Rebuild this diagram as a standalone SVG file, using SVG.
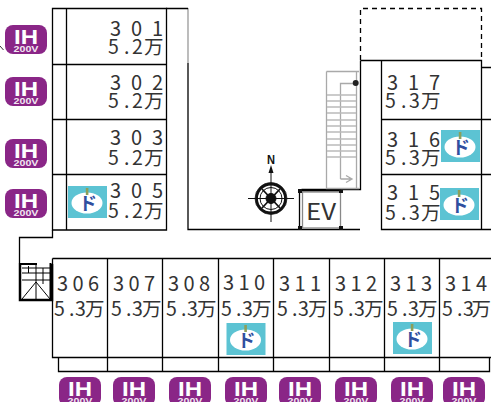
<svg xmlns="http://www.w3.org/2000/svg" width="491" height="402" viewBox="0 0 491 402">
<style>
.w{fill:none;stroke:#000;stroke-width:1.3}
.g{fill:none;stroke:#a9a9a9;stroke-width:1.3}
.n{font-family:"Noto Sans CJK JP","Noto Sans",sans-serif;font-size:20px;fill:#333}
.p{font-family:"Noto Sans CJK JP","Noto Sans",sans-serif;font-size:19.500px;fill:#333}
.ih{font-family:"Liberation Sans",sans-serif;font-weight:bold;fill:#fff;text-anchor:middle}
.do{font-family:"Noto Sans CJK JP",sans-serif;font-weight:bold;font-size:18px;fill:#2f4f9f;text-anchor:middle}
</style>
<defs>
<g id="badge"><rect width="42" height="29" rx="8" fill="#8a2687"/><text class="ih" x="21" y="18.500" font-size="21" textLength="24" lengthAdjust="spacingAndGlyphs">IH</text><text class="ih" x="21" y="27" font-size="9.500" textLength="25" lengthAdjust="spacingAndGlyphs" fill-opacity=".9">200V</text></g>
<g id="ido"><rect width="39" height="32" fill="#5cc3d3"/><ellipse cx="19" cy="17" rx="15.500" ry="10.500" fill="#fff"/><rect x="17.800" y="2" width="2.600" height="7" fill="#8d9f5a"/><text class="do" x="20" y="24">ド</text></g>
</defs>
<g id="plan">
<path class="w" d="M52.500 8.500H166.500V230H52.500ZM66.500 8.500V230M52.500 64.500H166.500M52.500 119.500H166.500M52.500 174.500H166.500"/>
<path class="w" d="M188 63V229.500H360"/>
<path d="M188 8V63" stroke="#999" stroke-width="1.300" fill="none"/>
<path class="w" d="M166 8.500H188M52.500 230V237.500H19.500V263"/>
<path class="w" stroke-dasharray="5 4" d="M360.500 60V8.500H481.500V60"/>
<path class="w" d="M360.500 60.500H481.500V229.500H381.500V60.500M360.500 60.500V189.500H301.500M481.500 67.500H491M381.500 119.500H491M381.500 174.500H491M481.500 229.500H491"/>
<path class="w" d="M52.500 258.500H491M52.500 258.500V357.500H491M107.500 258.500V371.500M162.500 258.500V371.500M218.500 258.500V371.500M273.500 258.500V371.500M329.500 258.500V371.500M384.500 258.500V371.500M439.500 258.500V371.500M58.500 357.500V371.500H489.500V357.500"/>
</g>
<g id="stairs-east">
<path class="g" d="M326.500 71.500H359M326.500 71.500V188.500H359M356.500 71.500V188.500M340.500 179V83.500H355"/>
<path d="M327 95H356M327 101H356M327 107H356M327 113H356M327 120H356M327 126H356M327 132H356M327 139H356M327 145H356M327 151H356M327 157H356" stroke="#bbb" stroke-width="1.500" fill="none"/>
<path class="g" d="M340.500 179H351M346 175.500L352 179L346 182.500" stroke-width="1.500"/>
<circle cx="355.700" cy="83" r="3" fill="#222"/>
</g>
<g id="stairs-west">
<path d="M20 263V300H52V264" fill="none" stroke="#000" stroke-width="2.500"/>
<path d="M20 264H37M50.500 263V300" fill="none" stroke="#000" stroke-width="2"/>
<path d="M36 264V282M43 268V284M22 268H50M22 273H50M22 280H50M22 299L36 282L50 299M36 282V299M28.500 273V266" fill="none" stroke="#000" stroke-width="1"/>
</g>
<g id="compass" fill="none" stroke="#111">
<path d="M248 198.500H294M271 173V222" stroke-width="1"/>
<circle cx="271" cy="198.500" r="14.500" stroke-width="2.800"/><circle cx="271" cy="198.500" r="16" stroke-width=".7"/><circle cx="271" cy="198.500" r="11" stroke-width="1"/>
<path d="M262 189L280 208M280 189L262 208" stroke-width="1.800"/><circle cx="271" cy="198.500" r="5" fill="#111"/>
<path d="M271 165L273.500 173H268.500Z" fill="#111" stroke="none"/>
<text x="271" y="164" font-family="Liberation Sans,sans-serif" font-size="12" font-weight="bold" fill="#111" stroke="none" text-anchor="middle" textLength="8" lengthAdjust="spacingAndGlyphs">N</text>
</g>
<g id="ev">
<rect x="302.500" y="192" width="38" height="36" fill="none" stroke="#888" stroke-width="1.300"/>
<path class="w" d="M299.500 190.500V229M300 190.500H341"/>
<path d="M298 189h4v4h-4zM339 190h4v3h-4zM298 226h4v4h-4zM339 226h4v4h-4z" fill="#111"/>
<text x="321" y="220" font-family="Noto Sans CJK JP,sans-serif" font-size="23" fill="#333" text-anchor="middle" textLength="30" lengthAdjust="spacingAndGlyphs">EV</text>
</g>
<g id="mark"><path d="M0 46L3.500 50" stroke="#333" stroke-width="1" fill="none"/></g>
<g id="r301"><text class="n" x="110" y="36" textLength="53">301</text><text class="p" x="108 124 132 144" y="54">5.2万</text></g>
<g id="r302"><text class="n" x="110" y="90" textLength="53">302</text><text class="p" x="108 124 132 144" y="108">5.2万</text></g>
<g id="r303"><text class="n" x="110" y="145" textLength="53">303</text><text class="p" x="108 124 132 144" y="165">5.2万</text></g>
<g id="r305"><text class="n" x="110" y="198" textLength="53">305</text><text class="p" x="108 124 132 144" y="218">5.2万</text><use href="#ido" x="68" y="186"/></g>
<g id="r317"><text class="n" x="387" y="90" textLength="53">317</text><text class="p" x="385 401 409 421" y="108">5.3万</text></g>
<g id="r316"><text class="n" x="387" y="147" textLength="53">316</text><text class="p" x="385 401 409 421" y="165">5.3万</text><use href="#ido" x="441" y="130"/></g>
<g id="r315"><text class="n" x="387" y="200" textLength="53">315</text><text class="p" x="385 401 409 421" y="220">5.3万</text><use href="#ido" x="440" y="188"/></g>
<g id="r306"><text class="n" x="57" y="291" textLength="42">306</text><text class="p" x="54 69 75 85" y="316">5.3万</text></g>
<g id="r307"><text class="n" x="113" y="291" textLength="42">307</text><text class="p" x="111 126 132 142" y="316">5.3万</text></g>
<g id="r308"><text class="n" x="168" y="291" textLength="42">308</text><text class="p" x="166 181 187 197" y="316">5.3万</text></g>
<g id="r310"><text class="n" x="223" y="290" textLength="42">310</text><text class="p" x="221 236 242 252" y="316">5.3万</text><use href="#ido" x="226.500" y="323"/></g>
<g id="r311"><text class="n" x="279" y="291" textLength="42">311</text><text class="p" x="277 292 298 308" y="316">5.3万</text></g>
<g id="r312"><text class="n" x="335" y="291" textLength="42">312</text><text class="p" x="333 348 354 364" y="316">5.3万</text></g>
<g id="r313"><text class="n" x="390" y="291" textLength="42">313</text><text class="p" x="387 402 408 418" y="316">5.3万</text><use href="#ido" x="393" y="322"/></g>
<g id="r314"><text class="n" x="445" y="291" textLength="42">314</text><text class="p" x="442 457 463 471.500" y="316">5.3万</text></g>
<g id="badges">
<use href="#badge" x="5" y="25"/><use href="#badge" x="5" y="77"/><use href="#badge" x="5" y="139"/><use href="#badge" x="5" y="189"/>
<use href="#badge" x="59" y="377"/><use href="#badge" x="113" y="377"/><use href="#badge" x="169" y="377"/><use href="#badge" x="225" y="377"/><use href="#badge" x="279" y="377"/><use href="#badge" x="335" y="377"/><use href="#badge" x="391" y="377"/><use href="#badge" x="443" y="377"/>
</g>
<g id="connectors"/>
</svg>
